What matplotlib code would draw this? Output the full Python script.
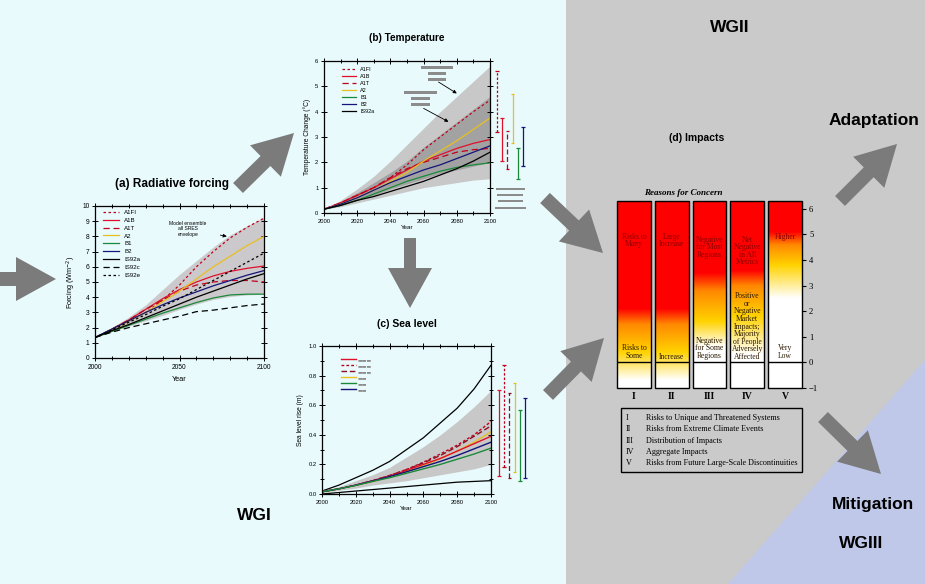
import numpy as np
import matplotlib
matplotlib.use('Agg')
import matplotlib.pyplot as plt
from matplotlib.patches import Rectangle, Polygon, FancyArrow
from matplotlib.colors import LinearSegmentedColormap
from matplotlib.ticker import MultipleLocator

SANS = ['Liberation Sans', 'DejaVu Sans']
SERIF = ['Liberation Serif', 'DejaVu Serif']
plt.rcParams['font.family'] = SANS
plt.rcParams['axes.linewidth'] = 0.9

W, H = 925, 584

# ---------------- data ----------------
years = [2000, 2010, 2020, 2030, 2040, 2050, 2060, 2070, 2080, 2090, 2100]

# (a) radiative forcing (W m-2)
forcing_env_hi = [1.35, 2.0, 2.7, 3.5, 4.5, 5.5, 6.4, 7.3, 8.1, 8.7, 9.25]
forcing_env_lo = [1.35, 1.75, 2.1, 2.45, 2.8, 3.2, 3.55, 3.85, 4.05, 4.15, 4.2]
forcing_A1FI = [1.35, 1.85, 2.4, 3.0, 3.8, 4.8, 6.0, 7.0, 7.9, 8.6, 9.2]
forcing_A1B = [1.35, 1.9, 2.5, 3.2, 3.9, 4.5, 5.0, 5.4, 5.7, 5.9, 6.05]
forcing_A1T = [1.35, 1.9, 2.5, 3.2, 3.8, 4.4, 4.8, 5.0, 5.1, 5.1, 5.0]
forcing_A2 = [1.35, 1.85, 2.4, 3.0, 3.7, 4.4, 5.2, 6.0, 6.7, 7.4, 8.0]
forcing_B1 = [1.35, 1.75, 2.15, 2.55, 2.95, 3.3, 3.65, 3.95, 4.15, 4.2, 4.2]
forcing_B2 = [1.35, 1.9, 2.45, 3.0, 3.5, 3.95, 4.35, 4.75, 5.1, 5.45, 5.75]
forcing_IS92a = [1.35, 1.8, 2.2, 2.65, 3.1, 3.55, 4.0, 4.4, 4.8, 5.2, 5.55]
forcing_IS92c = [1.35, 1.7, 2.0, 2.25, 2.5, 2.75, 3.05, 3.15, 3.3, 3.45, 3.55]
forcing_IS92e = [1.35, 1.85, 2.35, 2.85, 3.4, 3.9, 4.5, 5.1, 5.7, 6.3, 6.9]

# (b) temperature change (deg C)
temp_env_hi = [0.15, 0.5, 0.95, 1.45, 2.05, 2.7, 3.35, 4.0, 4.6, 5.2, 5.8]
temp_env_lo = [0.15, 0.25, 0.4, 0.55, 0.7, 0.85, 1.0, 1.1, 1.2, 1.3, 1.35]
temp_ens_hi = [0.15, 0.45, 0.8, 1.2, 1.6, 2.05, 2.6, 3.1, 3.6, 4.1, 4.6]
temp_ens_lo = [0.15, 0.3, 0.5, 0.7, 0.95, 1.15, 1.35, 1.55, 1.7, 1.85, 2.0]
temp_A1FI = [0.15, 0.4, 0.7, 1.0, 1.4, 1.9, 2.5, 3.0, 3.5, 4.0, 4.45]
temp_A1B = [0.15, 0.4, 0.7, 1.0, 1.35, 1.7, 2.05, 2.3, 2.55, 2.75, 2.9]
temp_A1T = [0.15, 0.4, 0.7, 1.0, 1.4, 1.75, 2.0, 2.2, 2.4, 2.5, 2.55]
temp_A2 = [0.15, 0.35, 0.6, 0.9, 1.25, 1.6, 2.05, 2.45, 2.85, 3.3, 3.75]
temp_B1 = [0.15, 0.3, 0.5, 0.75, 1.0, 1.25, 1.45, 1.65, 1.8, 1.9, 1.98]
temp_B2 = [0.15, 0.35, 0.6, 0.9, 1.2, 1.45, 1.7, 1.9, 2.15, 2.4, 2.65]
temp_IS92a = [0.15, 0.3, 0.5, 0.65, 0.85, 1.05, 1.25, 1.5, 1.75, 2.05, 2.4]
# 2100 ranges (low, high), order: A1FI, A1B, A1T, A2, B1, B2
temp_range_lo = [3.2, 2.05, 1.75, 2.75, 1.35, 1.85]
temp_range_hi = [5.6, 3.75, 3.25, 4.7, 2.55, 3.4]

# (c) sea level rise (m)
sea_env_hi = [0.02, 0.05, 0.09, 0.13, 0.18, 0.25, 0.32, 0.40, 0.49, 0.59, 0.70]
sea_env_lo = [0.01, 0.025, 0.04, 0.06, 0.075, 0.09, 0.11, 0.13, 0.15, 0.17, 0.20]
sea_max = [0.02, 0.06, 0.11, 0.16, 0.22, 0.30, 0.38, 0.48, 0.58, 0.71, 0.87]
sea_min = [0.0, 0.01, 0.02, 0.03, 0.04, 0.05, 0.06, 0.07, 0.08, 0.085, 0.09]
sea_A1FI = [0.015, 0.035, 0.06, 0.09, 0.125, 0.165, 0.215, 0.27, 0.33, 0.40, 0.49]
sea_A1T = [0.015, 0.035, 0.06, 0.09, 0.125, 0.165, 0.21, 0.26, 0.32, 0.39, 0.46]
sea_A1B = [0.015, 0.035, 0.06, 0.09, 0.12, 0.16, 0.20, 0.24, 0.29, 0.34, 0.39]
sea_A2 = [0.015, 0.035, 0.058, 0.085, 0.115, 0.15, 0.19, 0.24, 0.29, 0.35, 0.42]
sea_B1 = [0.015, 0.035, 0.058, 0.085, 0.11, 0.14, 0.17, 0.20, 0.235, 0.27, 0.31]
sea_B2 = [0.015, 0.035, 0.06, 0.088, 0.118, 0.15, 0.185, 0.22, 0.26, 0.305, 0.35]
# 2100 ranges, order: A1B, A1FI, A1T, A2, B1, B2
sea_range_lo = [0.12, 0.18, 0.11, 0.15, 0.09, 0.11]
sea_range_hi = [0.70, 0.87, 0.68, 0.75, 0.57, 0.65]

# (d) reasons for concern: colour levels (temperature change, deg C)
rfc_columns = ['I', 'II', 'III', 'IV', 'V']
rfc_white = [-0.7, -0.7, 0.6, 0.3, 2.5]
rfc_yellow = [0.4, 0.4, 1.6, 1.8, 3.8]
rfc_orange = [1.5, 1.5, 2.8, 3.0, 4.6]
rfc_red = [2.1, 2.1, 3.5, 3.6, 5.1]
rfc_top_text = ['Risks to\nMany', 'Large\nIncrease', 'Negative\nfor Most\nRegions',
                'Net\nNegative\nin All\nMetrics', 'Higher']
rfc_top_y = [4.75, 4.75, 4.5, 4.35, 4.9]
rfc_bottom_text = ['Risks to\nSome', 'Increase', 'Negative\nfor Some\nRegions',
                   'Positive\nor\nNegative\nMarket\nImpacts;\nMajority\nof People\nAdversely\nAffected',
                   'Very\nLow']
rfc_bottom_y = [0.4, 0.2, 0.55, 1.4, 0.4]
rfc_legend = ['Risks to Unique and Threatened Systems',
              'Risks from Extreme Climate Events',
              'Distribution of Impacts',
              'Aggregate Impacts',
              'Risks from Future Large-Scale Discontinuities']

# ---------------- styles ----------------
C_RED = '#e0102a'
C_DRED = '#c0001a'
C_YEL = '#e8c020'
C_GRN = '#1a8a3a'
C_NAV = '#14147a'
ARROW_C = '#7b7b7b'

fig = plt.figure(figsize=(9.25, 5.84), dpi=100)


def px_axes(l, t, r, b, **kw):
    return fig.add_axes([l / W, 1 - b / H, (r - l) / W, (b - t) / H], **kw)


# background
bg = px_axes(0, 0, W, H)
bg.set_xlim(0, W)
bg.set_ylim(H, 0)
bg.axis('off')
bg.add_patch(Rectangle((0, 0), 566, H, color='#e8fafc', lw=0))
bg.add_patch(Rectangle((566, 0), W - 566, H, color='#cacaca', lw=0))
bg.add_patch(Polygon([(W, 360), (W, H), (728, H)], closed=True, color='#bfc8e8', lw=0))


def fat_arrow(x0, y0, x1, y1, width=14, hw=44, hl=40):
    bg.add_patch(FancyArrow(x0, y0, x1 - x0, y1 - y0, width=width, head_width=hw,
                            head_length=hl, length_includes_head=True,
                            color=ARROW_C, lw=0))


fat_arrow(0, 279, 56, 279)
fat_arrow(238, 188, 294, 133)
fat_arrow(410, 238, 410, 308, width=12)
fat_arrow(545, 198, 603, 253)
fat_arrow(548, 395, 604, 338)
fat_arrow(840, 201, 897, 144)
fat_arrow(823, 417, 881, 474)


def btxt(x, y, s, size, **kw):
    bg.text(x, y, s, fontsize=size, fontweight='bold', ha='center', va='center', **kw)


btxt(172, 184, '(a) Radiative forcing', 8.5)
btxt(407, 38, '(b) Temperature', 7.2)
btxt(407, 324, '(c) Sea level', 7.5)
btxt(697, 138, '(d) Impacts', 7.5)
btxt(730, 27, 'WGII', 12.5)
btxt(874, 121, 'Adaptation', 12.5)
btxt(873, 505, 'Mitigation', 12.5)
btxt(861, 544, 'WGIII', 12.5)
btxt(254, 516, 'WGI', 12.5)

# gray placeholder text blocks in (b)
for (x, y, w, h) in [(421, 66, 32, 3), (428, 72, 18, 2.5), (428, 78, 18, 2.5),
                     (404, 91, 33, 3), (411, 97, 19, 2.5), (411, 103, 19, 2.5),
                     (496, 187.5, 29, 2.5), (497, 193.5, 26, 2.5),
                     (498, 199.5, 25, 2.5), (495, 206.5, 31, 2.5)]:
    bg.add_patch(Rectangle((x, y), w, h, color='#8c8c8c', lw=0))


def style_axes(ax, labelsize=4.5):
    ax.set_facecolor('none')
    ax.tick_params(which='both', direction='inout', top=True, right=True,
                   labelsize=labelsize, pad=1.5, width=0.7)
    ax.tick_params(which='major', length=5)
    ax.tick_params(which='minor', length=3)


# ---------------- (a) forcing ----------------
axa = px_axes(95, 206, 264, 358)
style_axes(axa, 4.8)
axa.fill_between(years, forcing_env_lo, forcing_env_hi, color='#cbc9cb', lw=0)
la = [
    axa.plot(years, forcing_A1FI, color=C_DRED, ls=(0, (2, 2)), lw=0.9, label='A1FI')[0],
    axa.plot(years, forcing_A1B, color=C_RED, ls='-', lw=0.9, label='A1B')[0],
    axa.plot(years, forcing_A1T, color=C_DRED, ls=(0, (5, 3)), lw=0.9, label='A1T')[0],
    axa.plot(years, forcing_A2, color=C_YEL, ls='-', lw=0.9, label='A2')[0],
    axa.plot(years, forcing_B1, color=C_GRN, ls='-', lw=0.9, label='B1')[0],
    axa.plot(years, forcing_B2, color=C_NAV, ls='-', lw=0.9, label='B2')[0],
    axa.plot(years, forcing_IS92a, color='black', ls='-', lw=0.9, label='IS92a')[0],
    axa.plot(years, forcing_IS92c, color='black', ls=(0, (5, 3)), lw=0.9, label='IS92c')[0],
    axa.plot(years, forcing_IS92e, color='black', ls=(0, (2, 2)), lw=0.9, label='IS92e')[0],
]
axa.set_xlim(2000, 2100)
axa.set_ylim(0, 10)
axa.set_xticks([2000, 2050, 2100])
axa.xaxis.set_minor_locator(MultipleLocator(10))
axa.set_yticks(range(0, 11))
axa.set_xlabel('Year', fontsize=5.2, labelpad=4)
axa.set_ylabel('Forcing (Wm$^{-2}$)', fontsize=5.2, labelpad=3)
axa.legend(handles=la, loc='upper left', bbox_to_anchor=(0.05, 0.975), fontsize=4.4,
           frameon=False, handlelength=2.6, labelspacing=0.42, handletextpad=0.8,
           borderaxespad=0, borderpad=0)
axa.annotate('Model ensemble\nall SRES\nenvelope', xy=(2078, 8.0), xytext=(2055, 8.5),
             fontsize=3.6, ha='center', va='center', linespacing=1.1,
             arrowprops=dict(arrowstyle='-|>', color='black', lw=0.6,
                             mutation_scale=5, shrinkA=8, shrinkB=0))

# ---------------- (b) temperature ----------------
axb = px_axes(324, 61, 490, 213)
style_axes(axb, 4.2)
axb.fill_between(years, temp_env_lo, temp_env_hi, color='#c8c8c8', lw=0)
axb.fill_between(years, temp_ens_lo, temp_ens_hi, color='#a2a2a2', lw=0)
lb = [
    axb.plot(years, temp_A1FI, color=C_DRED, ls=(0, (2, 2)), lw=0.9, label='A1FI')[0],
    axb.plot(years, temp_A1B, color=C_RED, ls='-', lw=0.9, label='A1B')[0],
    axb.plot(years, temp_A1T, color=C_DRED, ls=(0, (5, 3)), lw=0.9, label='A1T')[0],
    axb.plot(years, temp_A2, color=C_YEL, ls='-', lw=0.9, label='A2')[0],
    axb.plot(years, temp_B1, color=C_GRN, ls='-', lw=0.9, label='B1')[0],
    axb.plot(years, temp_B2, color=C_NAV, ls='-', lw=0.9, label='B2')[0],
    axb.plot(years, temp_IS92a, color='black', ls='-', lw=0.9, label='IS92a')[0],
]
axb.set_xlim(2000, 2100)
axb.set_ylim(0, 6)
axb.set_xticks(range(2000, 2101, 20))
axb.xaxis.set_minor_locator(MultipleLocator(10))
axb.set_yticks(range(0, 7))
axb.set_xlabel('Year', fontsize=4.5, labelpad=1)
axb.set_ylabel('Temperature Change (°C)', fontsize=4.8, labelpad=3)
axb.legend(handles=lb, loc='upper left', bbox_to_anchor=(0.11, 0.96), fontsize=4.0,
           frameon=False, handlelength=2.4, labelspacing=0.35, handletextpad=0.8,
           borderaxespad=0, borderpad=0)
for xy, xyt in [((2080, 4.72), (2069, 5.17)), ((2075, 3.6), (2060, 4.13))]:
    axb.annotate('', xy=xy, xytext=xyt,
                 arrowprops=dict(arrowstyle='-|>', color='black', lw=0.6,
                                 mutation_scale=5, shrinkA=0, shrinkB=0))

range_styles_b = [(C_DRED, (0, (2, 1.5))), (C_RED, '-'), (C_DRED, (0, (4, 2))),
                  (C_YEL, '-'), (C_GRN, '-'), (C_NAV, '-')]
axbr = px_axes(494, 61, 526, 213)
axbr.axis('off')
axbr.set_xlim(-0.6, 5.6)
axbr.set_ylim(0, 6)
for i, (lo, hi) in enumerate(zip(temp_range_lo, temp_range_hi)):
    c, ls = range_styles_b[i]
    axbr.vlines(i, lo, hi, color=c, ls=ls, lw=0.9)
    axbr.hlines([lo, hi], i - 0.35, i + 0.35, color=c, lw=0.9)

# ---------------- (c) sea level ----------------
axc = px_axes(322, 346, 491, 494)
style_axes(axc, 4.2)
axc.fill_between(years, sea_env_lo, sea_env_hi, color='#c8c8c8', lw=0)
axc.plot(years, sea_max, color='black', lw=0.9)
axc.plot(years, sea_min, color='black', lw=0.9)
lc_A1FI = axc.plot(years, sea_A1FI, color=C_DRED, ls=(0, (2, 1.5)), lw=1.0)[0]
lc_A1T = axc.plot(years, sea_A1T, color='#8a1020', ls=(0, (4, 2)), lw=1.0)[0]
lc_A2 = axc.plot(years, sea_A2, color=C_YEL, lw=1.0)[0]
lc_A1B = axc.plot(years, sea_A1B, color=C_RED, lw=1.0)[0]
lc_B2 = axc.plot(years, sea_B2, color=C_NAV, lw=1.0)[0]
lc_B1 = axc.plot(years, sea_B1, color=C_GRN, lw=1.0)[0]
axc.set_xlim(2000, 2100)
axc.set_ylim(0, 1.0)
axc.set_xticks(range(2000, 2101, 20))
axc.xaxis.set_minor_locator(MultipleLocator(10))
axc.set_yticks(np.arange(0, 1.01, 0.2))
axc.yaxis.set_major_formatter(matplotlib.ticker.FormatStrFormatter('%.1f'))
axc.yaxis.set_minor_locator(MultipleLocator(0.1))
axc.set_xlabel('Year', fontsize=4.5, labelpad=1)
axc.set_ylabel('Sea level rise (m)', fontsize=4.8, labelpad=3)
leg = axc.legend(handles=[lc_A1B, lc_A1FI, lc_A1T, lc_A2, lc_B1, lc_B2],
                 labels=['\u25ac\u25ac\u25ac'] * 3 + ['\u25ac\u25ac'] * 3,
                 loc='upper left', bbox_to_anchor=(0.11, 0.925), fontsize=3.6,
                 frameon=False, handlelength=3.0, labelspacing=0.2, handletextpad=0.3,
                 borderaxespad=0, borderpad=0)
for t in leg.get_texts():
    t.set_color('#8c8c8c')
    t.set_family(['DejaVu Sans'])

range_styles_c = [(C_RED, '-'), (C_DRED, (0, (2, 1.5))), ('#8a1020', (0, (4, 2))),
                  (C_YEL, '-'), (C_GRN, '-'), (C_NAV, '-')]
axcr = px_axes(496, 346, 528, 494)
axcr.axis('off')
axcr.set_xlim(-0.6, 5.6)
axcr.set_ylim(0, 1.0)
for i, (lo, hi) in enumerate(zip(sea_range_lo, sea_range_hi)):
    c, ls = range_styles_c[i]
    axcr.vlines(i, lo, hi, color=c, ls=ls, lw=0.9)
    axcr.hlines([lo, hi], i - 0.35, i + 0.35, color=c, lw=0.9)

# ---------------- (d) impacts ----------------
axd = px_axes(617, 201, 802, 388)
cmap = LinearSegmentedColormap.from_list(
    'rfc', [(0, '#ffffff'), (0.33, '#ffd300'), (0.66, '#ff8800'), (1, '#ff0000')])
yy = np.linspace(-1, 6.3, 500)
for i in range(5):
    t = np.interp(yy, [rfc_white[i], rfc_yellow[i], rfc_orange[i], rfc_red[i]],
                  [0, 0.33, 0.66, 1.0])
    img = cmap(t)[:, None, :]
    axd.imshow(img, extent=[i + 0.05, i + 0.95, -1, 6.3], origin='lower',
               aspect='auto', interpolation='bilinear')
    axd.add_patch(Rectangle((i + 0.05, -1), 0.9, 7.3, fill=False, ec='black',
                            lw=1.0, clip_on=False))
    axd.hlines(0, i + 0.05, i + 0.95, color='black', lw=1.0, clip_on=False)
    axd.text(i + 0.5, rfc_top_y[i], rfc_top_text[i], ha='center', va='center',
             fontsize=5.5, family=SERIF, color='#8a0000', linespacing=0.92)
    axd.text(i + 0.5, rfc_bottom_y[i], rfc_bottom_text[i], ha='center', va='center',
             fontsize=5.5, family=SERIF, color='#2a1800', linespacing=0.92)
    axd.text(i + 0.5, -1.35, rfc_columns[i], ha='center', va='center',
             fontsize=7, family=SERIF, fontweight='bold', clip_on=False)
axd.set_xlim(0.05, 4.95)
axd.set_ylim(-1, 6.3)
for s in axd.spines.values():
    s.set_visible(False)
axd.set_facecolor('none')
axd.set_xticks([])
axd.yaxis.tick_right()
axd.set_yticks(range(-1, 7))
axd.set_yticklabels(['\u22121'] + [str(v) for v in range(0, 7)])
axd.tick_params(axis='y', length=3, width=0.8, pad=2, labelsize=6.2)
for lab in axd.get_yticklabels():
    lab.set_family(SERIF)

bg.text(683, 193, 'Reasons for Concern', ha='center', va='center', fontsize=6.5,
        family=SERIF, fontweight='bold', fontstyle='italic')

# legend box
bg.add_patch(Rectangle((621, 408), 181, 64, fill=False, ec='black', lw=1.0))
numerals = ['I', 'II', 'III', 'IV', 'V']
for k, (num, txt) in enumerate(zip(numerals, rfc_legend)):
    y = 418 + k * 11.3
    bg.text(626, y, num, ha='left', va='center', fontsize=5.9, family=SERIF)
    bg.text(646, y, txt, ha='left', va='center', fontsize=5.9, family=SERIF)

fig.savefig('out.png', dpi=100)
